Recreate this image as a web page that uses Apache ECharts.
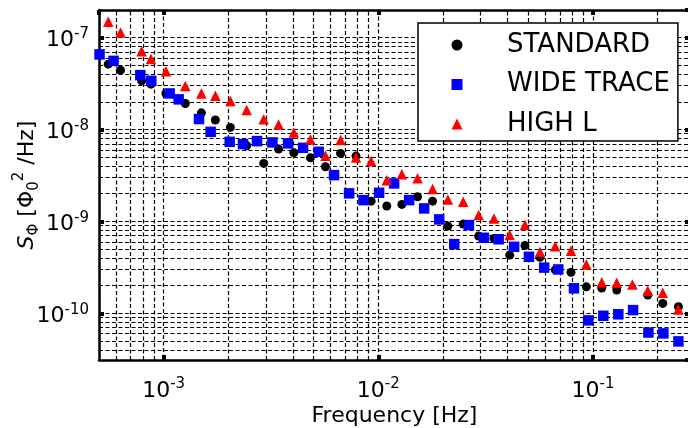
<!DOCTYPE html>
<html><head><meta charset="utf-8">
<script src="https://cdn.jsdelivr.net/npm/echarts@6/dist/echarts.min.js"></script>
<style>html,body{margin:0;padding:0;background:#fff}#c{width:688px;height:428px}</style>
</head><body><div id="c"></div>
<script>
// ---- data ----
const freqStd = [5.52e-4, 6.30e-4, 7.90e-4, 8.73e-4, 1.025e-3, 1.262e-3, 1.499e-3, 1.742e-3, 2.046e-3, 2.437e-3, 2.925e-3, 3.43e-3, 4.04e-3, 4.83e-3, 5.67e-3, 6.67e-3, 7.87e-3, 9.26e-3, 1.095e-2, 1.287e-2, 1.523e-2, 1.789e-2, 2.109e-2, 2.485e-2, 2.932e-2, 3.455e-2, 4.093e-2, 4.82e-2, 5.66e-2, 6.67e-2, 7.90e-2, 9.31e-2, 0.1098, 0.1290, 0.1799, 0.2113, 0.2499];
const standard = [5.15e-8, 4.43e-8, 3.39e-8, 3.12e-8, 2.47e-8, 1.92e-8, 1.52e-8, 1.27e-8, 1.054e-8, 6.65e-9, 4.28e-9, 6.12e-9, 5.58e-9, 4.92e-9, 3.93e-9, 5.50e-9, 5.14e-9, 1.66e-9, 1.47e-9, 1.53e-9, 1.85e-9, 1.66e-9, 8.89e-10, 9.35e-10, 6.92e-10, 6.53e-10, 4.30e-10, 5.45e-10, 4.06e-10, 2.97e-10, 2.79e-10, 1.94e-10, 1.88e-10, 1.79e-10, 1.58e-10, 1.28e-10, 1.18e-10];
const freqWide = [5.03e-4, 5.846e-4, 7.79e-4, 8.76e-4, 1.067e-3, 1.175e-3, 1.461e-3, 1.656e-3, 2.031e-3, 2.343e-3, 2.723e-3, 3.212e-3, 3.798e-3, 4.461e-3, 5.279e-3, 6.221e-3, 7.309e-3, 8.531e-3, 1.0086e-2, 1.185e-2, 1.392e-2, 1.635e-2, 1.921e-2, 2.257e-2, 2.642e-2, 3.103e-2, 3.635e-2, 4.292e-2, 5.03e-2, 5.923e-2, 6.89e-2, 8.155e-2, 9.508e-2, 0.1117, 0.1312, 0.1537, 0.1811, 0.2127, 0.2499];
const wideTrace = [6.57e-8, 5.59e-8, 3.91e-8, 3.39e-8, 2.47e-8, 2.13e-8, 1.30e-8, 9.44e-9, 7.35e-9, 6.94e-9, 7.48e-9, 7.24e-9, 7.06e-9, 6.32e-9, 5.72e-9, 3.19e-9, 2.02e-9, 1.705e-9, 2.05e-9, 2.59e-9, 1.705e-9, 1.385e-9, 1.051e-9, 5.66e-10, 9.12e-10, 6.63e-10, 6.39e-10, 5.29e-10, 4.12e-10, 3.14e-10, 3.00e-10, 1.87e-10, 8.37e-11, 9.39e-11, 9.75e-11, 1.083e-10, 6.17e-11, 6.04e-11, 4.94e-11];
const freqHigh = [5.52e-4, 6.30e-4, 7.90e-4, 8.73e-4, 1.025e-3, 1.262e-3, 1.499e-3, 1.742e-3, 2.046e-3, 2.437e-3, 2.925e-3, 3.43e-3, 4.04e-3, 4.83e-3, 5.67e-3, 6.67e-3, 7.87e-3, 9.26e-3, 1.095e-2, 1.287e-2, 1.523e-2, 1.789e-2, 2.109e-2, 2.485e-2, 2.932e-2, 3.455e-2, 4.093e-2, 4.82e-2, 5.66e-2, 6.67e-2, 7.90e-2, 9.31e-2, 0.1098, 0.1290, 0.1525, 0.1799, 0.2113, 0.2499];
const highL = [1.49e-7, 1.139e-7, 7.13e-8, 5.84e-8, 4.32e-8, 2.97e-8, 2.47e-8, 2.33e-8, 2.05e-8, 1.63e-8, 1.29e-8, 1.136e-8, 9.30e-9, 7.80e-9, 5.17e-9, 7.67e-9, 4.97e-9, 4.53e-9, 2.81e-9, 3.25e-9, 2.94e-9, 2.25e-9, 1.735e-9, 1.634e-9, 1.171e-9, 1.078e-9, 7.09e-10, 9.12e-10, 4.63e-10, 5.38e-10, 4.79e-10, 3.40e-10, 2.17e-10, 2.15e-10, 2.06e-10, 1.76e-10, 1.67e-10, 1.10e-10];
const seriesNames = ['STANDARD', 'WIDE TRACE', 'HIGH L'];
const xRange = [5e-4, 0.283];
const yRange = [3.1e-11, 2e-7];
const minorMultipliers = [2, 3, 4, 5, 6, 7, 8, 9];

// ---- helpers ----
const FONT = 'DejaVu Sans';
function pairs(xs, ys) { return xs.map((x, i) => [x, ys[i]]); }
function minorValues(range) {
  const out = [];
  const k0 = Math.floor(Math.log10(range[0])), k1 = Math.ceil(Math.log10(range[1]));
  for (let k = k0; k <= k1; k++) {
    minorMultipliers.forEach(m => {
      const v = m * Math.pow(10, k);
      if (v > range[0] * 1.001 && v < range[1] * 0.999) out.push(v);
    });
  }
  return out;
}
function powLabel(v) {
  const e = Math.log10(v), r = Math.round(e);
  if (Math.abs(e - r) > 1e-6) return '';
  return '{b|10}{s|' + r + '}';
}
const dash = { color: '#000', width: 1.2, type: [4, 2.5] };
const labelRich = {
  b: { fontSize: 22, fontFamily: FONT, color: '#000', lineHeight: 28 },
  s: { fontSize: 15, fontFamily: FONT, color: '#000', lineHeight: 16, verticalAlign: 'top' }
};
const axisLine = { show: true, lineStyle: { color: '#000', width: 2.5 } };
const axisTick = { show: true, inside: true, length: 5, lineStyle: { color: '#000', width: 4 } };

const minorGrid = minorValues(xRange).map(v => ({ coords: [[v, yRange[0]], [v, yRange[1]]] }))
  .concat(minorValues(yRange).map(v => ({ coords: [[xRange[0], v], [xRange[1], v]] })));

const chart = echarts.init(document.getElementById('c'), null, { renderer: 'canvas' });
chart.setOption({
  animation: false,
  backgroundColor: '#fff',
  grid: { left: 99, top: 10, width: 591, height: 350, outerBoundsMode: 'none' },
  legend: {
    orient: 'vertical', left: 418, top: 23,
    itemWidth: 11, itemHeight: 11, itemGap: 13.5,
    padding: [9, 8, 4, 33.5],
    backgroundColor: '#fff', borderColor: '#000', borderWidth: 1.5, borderRadius: 0,
    selectedMode: false,
    textStyle: { fontSize: 26, fontFamily: FONT, color: '#000', padding: [0, 0, 0, 39.5] },
    data: seriesNames
  },
  xAxis: [{
    type: 'log', logBase: 10, min: xRange[0], max: xRange[1], position: 'bottom',
    axisLine, axisTick,
    axisLabel: { formatter: powLabel, rich: labelRich, margin: 17, showMinLabel: false, showMaxLabel: false },
    splitLine: { show: true, lineStyle: dash },
    name: 'Frequency [Hz]', nameLocation: 'middle', nameGap: 45, nameMoveOverlap: false,
    nameTextStyle: { fontSize: 22, fontFamily: FONT, color: '#000' }
  }, {
    type: 'log', logBase: 10, min: xRange[0], max: xRange[1], position: 'top',
    axisLine, axisTick, axisLabel: { show: false }, splitLine: { show: false }
  }],
  yAxis: [{
    type: 'log', logBase: 10, min: yRange[0], max: yRange[1], position: 'left',
    axisLine, axisTick,
    axisLabel: { formatter: powLabel, rich: labelRich, margin: 10, padding: [6, 0, 0, 0], showMinLabel: false, showMaxLabel: false },
    splitLine: { show: true, lineStyle: dash },
    name: '{it|S}{sub|Φ}{n| [Φ}{sub|0}{sup|2}{n| /Hz]}',
    nameLocation: 'middle', nameGap: 57, nameMoveOverlap: false,
    nameTextStyle: {
      fontSize: 22, fontFamily: FONT, color: '#000',
      rich: {
        it: { fontSize: 22, fontFamily: FONT, fontStyle: 'italic', color: '#000', lineHeight: 30 },
        n: { fontSize: 22, fontFamily: FONT, color: '#000', lineHeight: 30 },
        sub: { fontSize: 15, fontFamily: FONT, color: '#000', lineHeight: 16, verticalAlign: 'bottom' },
        sup: { fontSize: 15, fontFamily: FONT, color: '#000', lineHeight: 16, verticalAlign: 'top' }
      }
    }
  }, {
    type: 'log', logBase: 10, min: yRange[0], max: yRange[1], position: 'right',
    axisLine, axisTick, axisLabel: { show: false }, splitLine: { show: false }
  }],
  series: [{
    type: 'lines', name: '__grid', coordinateSystem: 'cartesian2d', silent: true, z: 1,
    polyline: false, symbol: ['none', 'none'], effect: { show: false },
    lineStyle: { color: '#000', width: 1.2, type: [4, 2.5], opacity: 1 },
    data: minorGrid
  }, {
    type: 'scatter', name: seriesNames[0], data: pairs(freqStd, standard),
    symbol: 'circle', symbolSize: 9, itemStyle: { color: '#000000', opacity: 1 }, z: 2
  }, {
    type: 'scatter', name: seriesNames[1], data: pairs(freqWide, wideTrace),
    symbol: 'rect', symbolSize: 10.5, itemStyle: { color: '#0000ff', opacity: 1 }, z: 2
  }, {
    type: 'scatter', name: seriesNames[2], data: pairs(freqHigh, highL),
    symbol: 'triangle', symbolSize: 10.5, itemStyle: { color: '#ff0000', opacity: 1 }, z: 2
  }]
});
</script>
</body></html>
